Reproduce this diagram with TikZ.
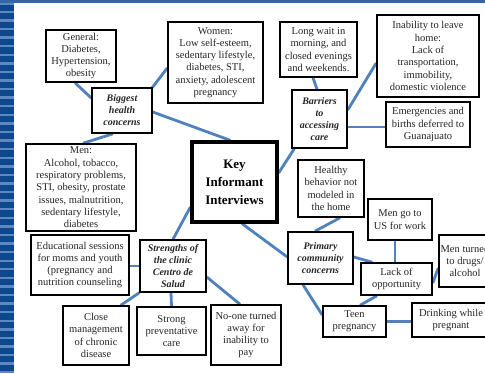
\documentclass[tikz,border=0pt]{standalone}
\usepackage{fontspec}
\setmainfont{Liberation Serif}
\usetikzlibrary{calc}
\definecolor{linkblue}{HTML}{4F81BD}
\definecolor{stripdark}{HTML}{0F478D}
\definecolor{striplight}{HTML}{5E88BE}
\definecolor{topband}{HTML}{3565A5}
\pgfdeclarelayer{pagebg}
\pgfdeclarelayer{links}
\pgfsetlayers{pagebg,links,main}
\begin{document}
\begin{tikzpicture}[x=1pt,y=-1pt,
  box/.style={draw=black,line width=1.5pt,fill=white,align=center,inner sep=0pt,
    text=black!85,font=\fontsize{10.5}{12.3}\selectfont},
  hub/.style={box,font=\fontsize{10}{12}\selectfont\bfseries\itshape},
  keybox/.style={box,line width=3.2pt,text=black,font=\fontsize{13}{18}\selectfont\bfseries},
  link/.style={draw=linkblue,line width=2.8pt}]
\useasboundingbox (0,0) rectangle (485,373);
\clip (0,0) rectangle (485,373);
\begin{pgfonlayer}{pagebg}
  \fill[white] (0,0) rectangle (485,373);
  \fill[stripdark] (0,0) rectangle (14,373);
  \foreach \i in {0,...,43} {
    \fill[striplight] (0,{3.3+8.58*\i-1.2}) rectangle (14,{3.3+8.58*\i+1.2});
  }
  \fill[topband] (0,0) rectangle (485,2.6);
\end{pgfonlayer}

% nodes
\node[box,minimum width=70pt,minimum height=52pt] (gen) at (81,56) {General:\\Diabetes,\\Hypertension,\\obesity};
\node[box,minimum width=95pt,minimum height=81pt] (wom) at (215.5,62.5) {Women:\\Low self-esteem,\\sedentary lifestyle,\\diabetes, STI,\\anxiety, adolescent\\pregnancy};
\node[hub,minimum width=60pt,minimum height=45pt] (big) at (122,110.5) {Biggest\\health\\concerns};
\node[box,minimum width=110pt,minimum height=87pt] (men) at (81,187.5) {Men:\\Alcohol, tobacco,\\respiratory problems,\\STI, obesity, prostate\\issues, malnutrition,\\sedentary lifestyle,\\diabetes};
\node[keybox,minimum width=85pt,minimum height=80pt] (key) at (234.5,182) {Key\\Informant\\Interviews};
\node[box,minimum width=77pt,minimum height=55pt] (wait) at (318.5,49.5) {Long wait in\\morning, and\\closed evenings\\and weekends.};
\node[box,minimum width=102pt,minimum height=82pt] (inab) at (428,56) {Inability to leave\\home:\\Lack of\\transportation,\\immobility,\\domestic violence};
\node[hub,minimum width=55pt,minimum height=58pt] (bar) at (319.5,119) {Barriers\\to\\accessing\\care};
\node[box,minimum width=84pt,minimum height=45pt] (emg) at (428,124.5) {Emergencies and\\births deferred to\\Guanajuato};
\node[box,minimum width=66pt,minimum height=57pt] (heal) at (331,188.5) {Healthy\\behavior not\\modeled in\\the home};
\node[box,minimum width=64pt,minimum height=41pt] (usw) at (400,219.5) {Men go to\\US for work};
\node[hub,minimum width=65pt,minimum height=52pt] (prim) at (320.5,258) {Primary\\community\\concerns};
\node[box,minimum width=71pt,minimum height=32pt] (lack) at (396.5,279) {Lack of\\opportunity};
\node[box,minimum width=52pt,minimum height=52pt] (drug) at (465,261) {Men turned\\to drugs/\\alcohol};
\node[box,minimum width=63pt,minimum height=31pt] (teen) at (354.5,321.5) {Teen\\pregnancy};
\node[box,minimum width=78pt,minimum height=34pt] (drink) at (451,320) {Drinking while\\pregnant};
\node[hub,minimum width=66pt,minimum height=52pt] (str) at (173,266) {Strengths of\\the clinic\\Centro de\\Salud};
\node[box,minimum width=98pt,minimum height=60pt] (edu) at (80,265) {Educational sessions\\for moms and youth\\(pregnancy and\\nutrition counseling};
\node[box,minimum width=66pt,minimum height=59pt] (close) at (96,335.5) {Close\\management\\of chronic\\disease};
\node[box,minimum width=69pt,minimum height=48pt] (strong) at (171.5,331) {Strong\\preventative\\care};
\node[box,minimum width=70pt,minimum height=60pt] (noone) at (246,335) {No-one turned\\away for\\inability to\\pay};

% connectors
\begin{pgfonlayer}{links}
  \draw[link] ($(gen.south)+(-6,0)$) -- ($(big.west)+(0,-12.5)$);
  \draw[link] ($(wom.west)+(0,5.5)$) -- ($(big.north east)+(-1,1)$);
  \draw[link] ($(big.east)+(0,1.5)$) -- ($(key.north)+(-4,0)$);
  \draw[link] ($(big.south)+(-9,0)$) -- ($(men.north)+(2,0)$);
  \draw[link] ($(key.east)+(0,-9)$) -- ($(bar.south west)+(3,0)$);
  \draw[link] ($(wait.south)+(-5.5,0)$) -- ($(bar.north)+(-2.5,0)$);
  \draw[link] ($(inab.west)+(0,7)$) -- ($(bar.east)+(0,-9)$);
  \draw[link] ($(bar.east)+(0,8)$) -- ($(emg.west)+(0,2.5)$);
  \draw[link] ($(key.south)+(7.5,0)$) -- ($(prim.west)+(0,-1)$);
  \draw[link] ($(heal.south)+(9,0)$) -- ($(prim.north)+(-5.5,0)$);
  \draw[link] ($(prim.east)+(0,-1)$) -- ($(lack.north west)+(12,0)$);
  \draw[link] ($(usw.south)+(-5,0)$) -- ($(lack.north)+(-1.5,0)$);
  \draw[link] ($(lack.east)+(0,4)$) -- ($(drug.west)+(0,7)$);
  \draw[link] ($(lack.south)+(-19.5,0)$) -- ($(teen.north)+(5.5,0)$);
  \draw[link] ($(prim.south)+(-17.5,0)$) -- ($(teen.west)+(0,-6.5)$);
  \draw[link] (teen.east) -- (teen.east -| drink.west);
  \draw[link] ($(key.west)+(0,25)$) -- (str.north);
  \draw[link] (str.west) -- (str.west -| edu.east);
  \draw[link] (str.south west) -- ($(close.north east)+(-9,0)$);
  \draw[link] ($(str.south)+(-2,0)$) -- (strong.north);
  \draw[link] ($(str.east)+(0,11)$) -- ($(noone.north)+(-6,0)$);
\end{pgfonlayer}
\end{tikzpicture}
\end{document}
